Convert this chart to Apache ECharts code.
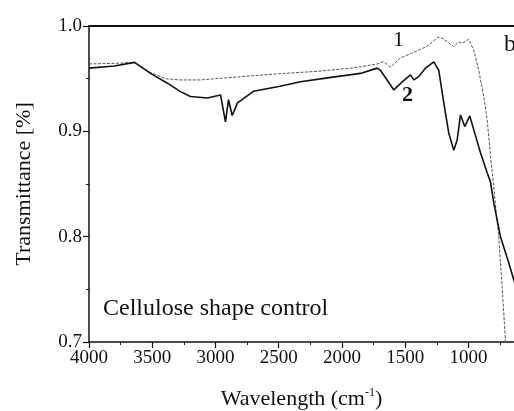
<!DOCTYPE html>
<html>
<head>
<meta charset="utf-8">
<script src="https://cdn.jsdelivr.net/npm/echarts@6/dist/echarts.min.js"></script>
<style>html,body{margin:0;padding:0;background:#fff}#c{width:514px;height:411px}</style>
</head>
<body>
<div id="c"></div>
<script>
// Curve 1 (dotted): wavenumber (cm^-1) and transmittance
var wn1 = [4000, 3800, 3640, 3590, 3515, 3395, 3280, 3120, 2960, 2720, 2460, 2190, 1930, 1850, 1720, 1672, 1617, 1538, 1450, 1324, 1240, 1200, 1116, 1077, 1050, 998, 958, 919, 879, 852, 826, 800, 780, 761, 734, 708, 695];
var t1  = [0.964, 0.9645, 0.9655, 0.9615, 0.956, 0.950, 0.9488, 0.9488, 0.9504, 0.9526, 0.955, 0.957, 0.960, 0.9614, 0.964, 0.9662, 0.9608, 0.9697, 0.974, 0.981, 0.9895, 0.988, 0.9804, 0.985, 0.9836, 0.9874, 0.977, 0.958, 0.933, 0.911, 0.877, 0.847, 0.822, 0.800, 0.753, 0.702, 0.685];
// Curve 2 (solid)
var wn2 = [4000, 3800, 3640, 3514, 3380, 3277, 3198, 3063, 2960, 2921, 2897, 2868, 2826, 2700, 2500, 2328, 2100, 1854, 1722, 1696, 1590, 1524, 1458, 1432, 1393, 1340, 1274, 1235, 1195, 1156, 1116, 1089, 1063, 1029, 990, 958, 905, 852, 826, 800, 747, 681, 642, 600];
var t2  = [0.960, 0.962, 0.9655, 0.955, 0.9457, 0.9377, 0.933, 0.9317, 0.9345, 0.909, 0.930, 0.915, 0.927, 0.938, 0.9425, 0.947, 0.951, 0.955, 0.960, 0.958, 0.9393, 0.947, 0.9535, 0.9488, 0.952, 0.960, 0.966, 0.958, 0.927, 0.8985, 0.882, 0.892, 0.9156, 0.9045, 0.9147, 0.9014, 0.8796, 0.8607, 0.852, 0.832, 0.800, 0.775, 0.759, 0.745];
var xTicks = [4000, 3500, 3000, 2500, 2000, 1500, 1000];
var xMinorTicks = [3750, 3250, 2750, 2250, 1750, 1250, 750];
var yTicks = [0.7, 0.8, 0.9, 1.0];

function pairs(xs, ys) { return xs.map(function (x, i) { return [x, ys[i]]; }); }

var font = '"Liberation Serif", "DejaVu Serif", serif';
var X_MIN = 640, X_MAX = 4000;
var chart = echarts.init(document.getElementById('c'), null, {renderer: 'canvas'});
chart.setOption({
  backgroundColor: '#fff',
  animation: false,
  grid: {left: 89, top: 26, right: 0, bottom: 69, show: false, containLabel: false, outerBoundsMode: 'none'},
  xAxis: [{
    type: 'value', inverse: true, min: X_MIN, max: X_MAX, position: 'bottom',
    axisLine: {show: true, onZero: false, lineStyle: {color: '#111', width: 1.5}},
    axisTick: {show: true, inside: false, length: 6, customValues: xTicks, lineStyle: {color: '#111', width: 1.2}},
    splitLine: {show: false},
    axisLabel: {margin: 7, color: '#111', fontFamily: font, fontSize: 19, customValues: xTicks,
      formatter: function (v) { return String(v); }},
    name: 'Wavelength (cm{sup|-1})', nameLocation: 'middle', nameGap: 45,
    nameTextStyle: {color: '#111', fontFamily: font, fontSize: 22,
      rich: {sup: {fontFamily: font, fontSize: 12, color: '#111', verticalAlign: 'top', padding: [0, 0, 12, 0]}}}
  }, {
    type: 'value', inverse: true, min: X_MIN, max: X_MAX, position: 'bottom',
    axisLine: {show: false, onZero: false},
    axisTick: {show: true, inside: false, length: 3, customValues: xMinorTicks, lineStyle: {color: '#111', width: 1}},
    axisLabel: {show: false}, splitLine: {show: false}
  }, {
    type: 'value', inverse: true, min: X_MIN, max: X_MAX, position: 'top',
    axisLine: {show: true, onZero: false, lineStyle: {color: '#111', width: 1.8}},
    axisTick: {show: false}, axisLabel: {show: false}, splitLine: {show: false}
  }],
  yAxis: {
    type: 'value', min: 0.7, max: 1.0, interval: 0.1,
    axisLine: {show: true, onZero: false, lineStyle: {color: '#111', width: 1.5}},
    axisTick: {show: true, inside: false, length: 6, lineStyle: {color: '#111', width: 1.2}},
    minorTick: {show: true, splitNumber: 2, length: 3, lineStyle: {color: '#111', width: 1}},
    splitLine: {show: false},
    axisLabel: {margin: 7, color: '#111', fontFamily: font, fontSize: 19,
      formatter: function (v) { return v.toFixed(1); }},
    name: 'Transmittance [%]', nameLocation: 'middle', nameGap: 54, nameRotate: 90,
    nameTextStyle: {color: '#111', fontFamily: font, fontSize: 22}
  },
  series: [
    {type: 'line', name: '1', data: pairs(wn1, t1), symbol: 'none', clip: true, xAxisIndex: 0,
      lineStyle: {color: '#555', width: 1, type: [3, 1.5]}},
    {type: 'line', name: '2', data: pairs(wn2, t2), symbol: 'none', clip: true, xAxisIndex: 0,
      lineStyle: {color: '#111', width: 1.6}}
  ],
  graphic: [
    {type: 'text', left: 103, top: 297, style: {text: 'Cellulose shape control', fill: '#111', font: '24px ' + font}},
    {type: 'text', left: 393, top: 29, style: {text: '1', fill: '#111', font: '22px ' + font}},
    {type: 'text', left: 402, top: 84, style: {text: '2', fill: '#111', font: 'bold 22px ' + font}},
    {type: 'text', left: 504, top: 33, style: {text: 'b', fill: '#111', font: '24px ' + font}}
  ]
});
</script>
</body>
</html>
